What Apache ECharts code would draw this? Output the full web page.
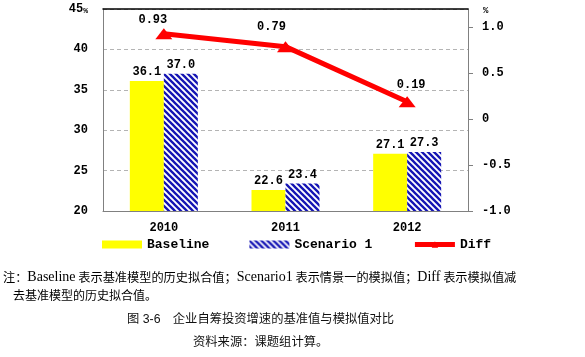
<!DOCTYPE html>
<html><head><meta charset="utf-8">
<script src="https://cdn.jsdelivr.net/npm/echarts@6/dist/echarts.min.js"></script>
<style>html,body{margin:0;padding:0;background:#fff}#c{width:585px;height:357px}</style>
</head><body><div id="c"></div>
<script>
const categories = ['2010', '2011', '2012'];
const baseline = [36.1, 22.6, 27.1];
const scenario1 = [37.0, 23.4, 27.3];
const diff = [0.93, 0.79, 0.19];
const leftTicks = [20, 25, 30, 35, 40, 45];
const rightTicks = [-1.0, -0.5, 0, 0.5, 1.0];
const diffLabelOffsets = [[-11, 1], [-14, -5], [4, -2]];

const MONO = 'Liberation Mono';
function stripePattern() {
  const s = 6;
  const cv = document.createElement('canvas');
  cv.width = s; cv.height = s;
  const ctx = cv.getContext('2d');
  ctx.fillStyle = '#ffffff';
  ctx.fillRect(0, 0, s, s);
  ctx.strokeStyle = '#1414b4';
  ctx.lineWidth = 2.3;
  for (const c of [-s, 0, s]) {
    ctx.beginPath();
    ctx.moveTo(-1, -1 + c);
    ctx.lineTo(s + 1, s + 1 + c);
    ctx.stroke();
  }
  return { image: cv, repeat: 'repeat' };
}
const pat = stripePattern();
const labelStyle = { fontFamily: MONO, fontWeight: 'bold', fontSize: 12, color: '#000' };
const SERIF = 'Liberation Serif';
const CJK = 'Noto Sans CJK SC';

const chart = echarts.init(document.getElementById('c'), null, { renderer: 'canvas' });
chart.setOption({
  animation: false,
  grid: { left: 103, right: 117, top: 9, bottom: 146 },
  legend: {
    left: 97, top: 233, itemGap: 40, itemWidth: 40, itemHeight: 8,
    textStyle: { fontFamily: MONO, fontWeight: 'bold', fontSize: 13, color: '#000' },
    data: [
      { name: 'Baseline', icon: 'rect' },
      { name: 'Scenario 1', icon: 'rect' },
      { name: 'Diff', itemWidth: 46, lineStyle: { width: 5, color: '#ff0000' } }
    ]
  },
  xAxis: [{
    type: 'category', data: categories, position: 'bottom',
    axisLine: { onZero: false, lineStyle: { color: '#808080', width: 1 } },
    axisTick: { inside: true, length: 3, lineStyle: { color: '#808080' } },
    splitLine: { show: false },
    axisLabel: Object.assign({ margin: 11 }, labelStyle)
  }, {
    type: 'category', data: categories, position: 'top',
    axisLine: { onZero: false, lineStyle: { color: '#000', width: 1.5 } },
    axisTick: { show: false }, axisLabel: { show: false }, splitLine: { show: false }
  }],
  yAxis: [{
    type: 'value', min: 20, max: 45, interval: 5, position: 'left',
    axisLine: { show: true, onZero: false, lineStyle: { color: '#808080' } },
    axisTick: { show: false },
    splitLine: { show: true, lineStyle: { type: [4, 3], color: '#b4b4b4' } },
    axisLabel: Object.assign({
      margin: 15,
      formatter: v => v === 45 ? '45{p|%}' : String(v),
      rich: { p: { fontSize: 8, fontFamily: MONO, fontWeight: 'bold', color: '#000', padding: [0, 0, -3, 0] } }
    }, labelStyle)
  }, {
    type: 'value', min: -1.0, max: 1.2, interval: 0.5, position: 'right',
    axisLine: { show: true, onZero: false, lineStyle: { color: '#808080' } },
    axisTick: { show: true, length: 5, customValues: rightTicks, lineStyle: { color: '#808080' } },
    splitLine: { show: false },
    axisLabel: Object.assign({
      margin: 14, customValues: rightTicks,
      formatter: v => v === 0 ? '0' : v.toFixed(1)
    }, labelStyle)
  }],
  series: [{
    name: 'Baseline', type: 'bar', yAxisIndex: 0, data: baseline,
    barWidth: 34, barGap: '0%',
    itemStyle: { color: '#ffff00' },
    label: Object.assign({ show: true, position: 'top', distance: 3, formatter: p => p.value.toFixed(1) }, labelStyle)
  }, {
    name: 'Scenario 1', type: 'bar', yAxisIndex: 0, data: scenario1,
    barWidth: 34, barGap: '0%',
    itemStyle: { color: pat },
    label: Object.assign({ show: true, position: 'top', distance: 3, formatter: p => p.value.toFixed(1) }, labelStyle)
  }, {
    name: 'Diff', type: 'line', yAxisIndex: 1,
    data: diff.map((v, i) => ({ value: v, label: { offset: diffLabelOffsets[i] } })),
    symbol: 'triangle', symbolSize: [17, 11], symbolKeepAspect: false,
    lineStyle: { color: '#ff0000', width: 5 },
    itemStyle: { color: '#ff0000' },
    label: Object.assign({ show: true, position: 'top', distance: 3, formatter: p => p.value.toFixed(2) }, labelStyle),
    z: 5
  }],
  graphic: [
    { type: 'text', left: 483, top: 6, style: { text: '%', fontFamily: MONO, fontWeight: 'bold', fontSize: 9, fill: '#000' } },
    { type: 'text', left: 3, top: 270, style: {
      text: '注：{l|Baseline} 表示基准模型的历史拟合值；{l|Scenario1} 表示情景一的模拟值；{l|Diff} 表示模拟值减',
      fontFamily: CJK, fontSize: 12.2, fill: '#000',
      rich: { l: { fontFamily: SERIF, fontSize: 14, fill: '#000' } } } },
    { type: 'text', left: 13, top: 289, style: { text: '去基准模型的历史拟合值。', fontFamily: CJK, fontSize: 12, fill: '#000' } },
    { type: 'text', left: 127, top: 313, style: { text: '图 3-6　企业自筹投资增速的基准值与模拟值对比', fontFamily: 'Liberation Sans, Noto Sans CJK SC', fontSize: 12.3, fill: '#111' } },
    { type: 'text', left: 193, top: 336, style: { text: '资料来源：课题组计算。', fontFamily: 'Liberation Sans, Noto Sans CJK SC', fontSize: 12.3, fill: '#111' } }
  ]
});
</script></body></html>
